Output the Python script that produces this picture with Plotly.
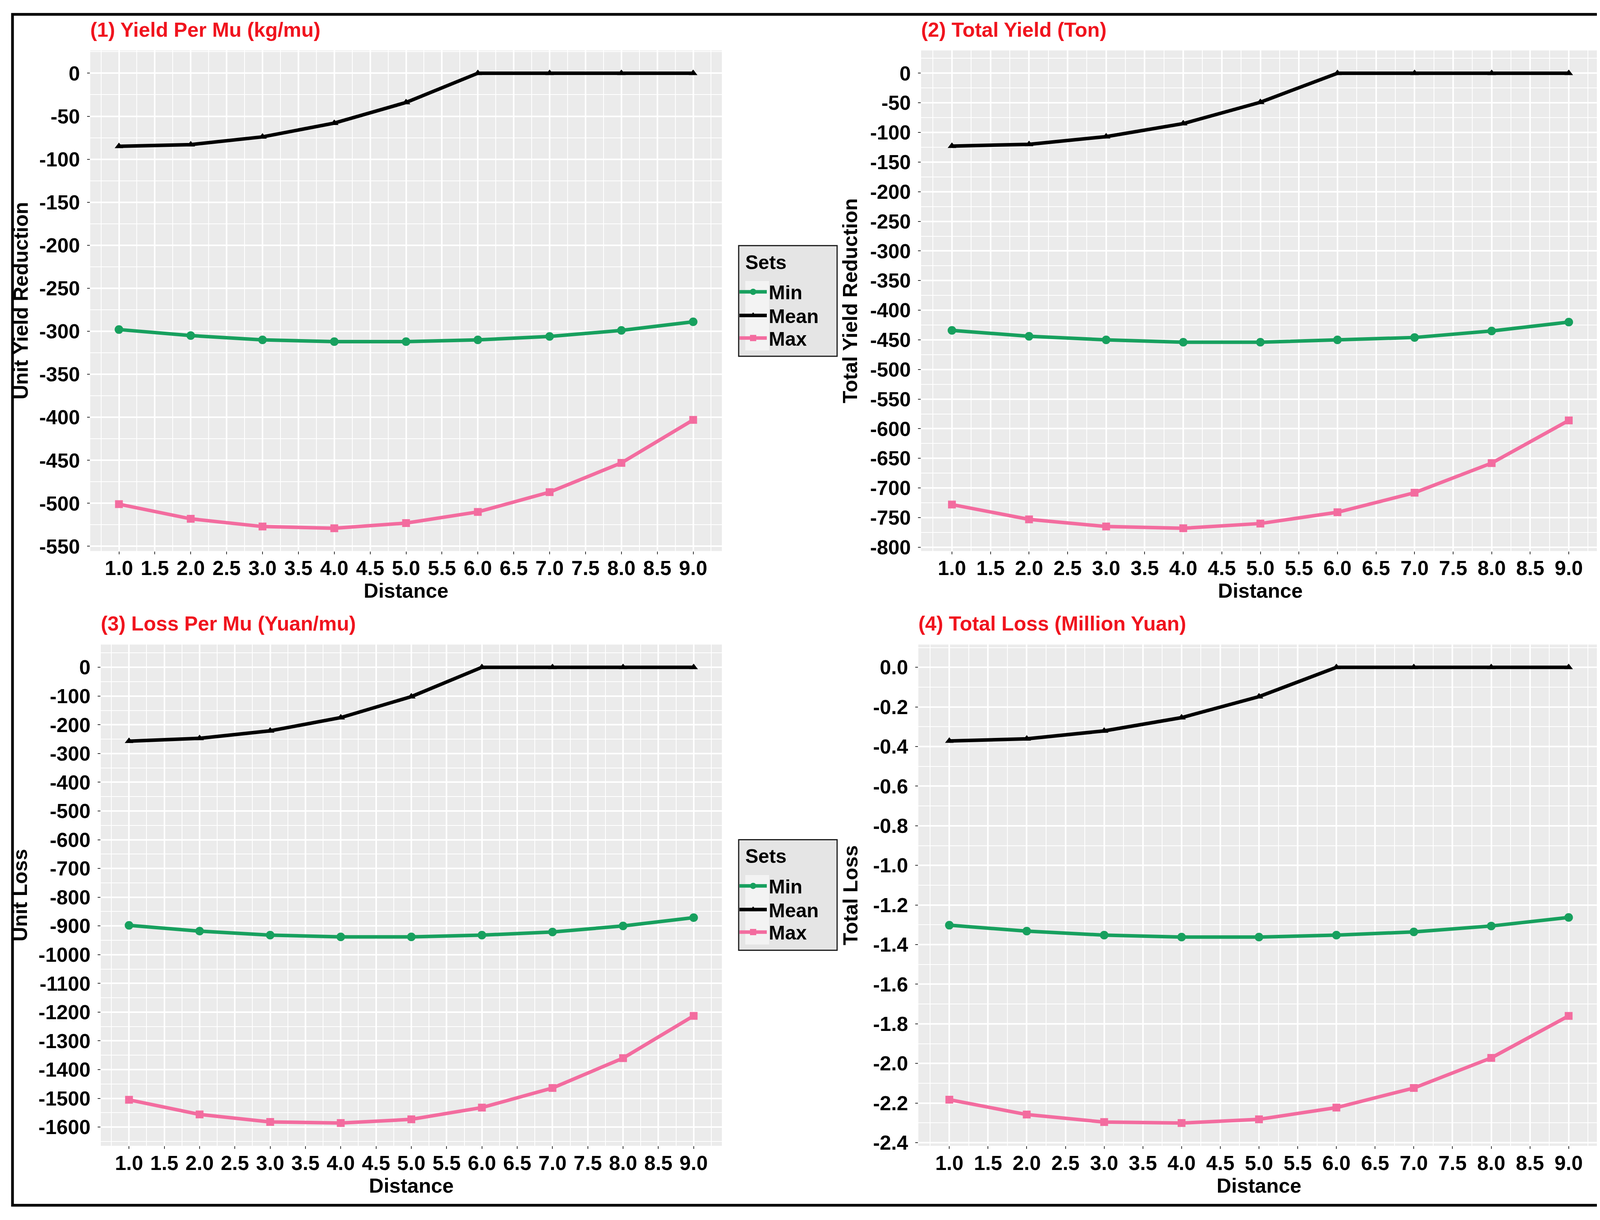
import plotly.graph_objects as go

W, H = 4139, 3123

# ---------------- data ----------------
distance = [1, 2, 3, 4, 5, 6, 7, 8, 9]
set_names = ["Min", "Mean", "Max"]

yield_mu_min = [-298, -305, -310, -312, -312, -310, -306, -299, -289]
yield_mu_mean = [-85, -83, -74, -58, -34, 0, 0, 0, 0]
yield_mu_max = [-501, -518, -527, -529, -523, -510, -487, -453, -403]

total_yield_min = [-434, -444, -450, -454, -454, -450, -446, -435, -420]
total_yield_mean = [-123, -120, -107, -85, -49, 0, 0, 0, 0]
total_yield_max = [-728, -753, -765, -768, -760, -741, -708, -658, -586]

loss_mu_min = [-898, -918, -932, -938, -938, -932, -921, -900, -871]
loss_mu_mean = [-257, -247, -221, -175, -102, 0, 0, 0, 0]
loss_mu_max = [-1505, -1556, -1582, -1586, -1573, -1532, -1464, -1360, -1213]

total_loss_min = [-1.302, -1.332, -1.352, -1.362, -1.362, -1.352, -1.336, -1.306, -1.263]
total_loss_mean = [-0.372, -0.361, -0.321, -0.254, -0.148, 0, 0, 0, 0]
total_loss_max = [-2.183, -2.258, -2.296, -2.301, -2.282, -2.223, -2.124, -1.972, -1.760]

x_ticks = [1.0, 1.5, 2.0, 2.5, 3.0, 3.5, 4.0, 4.5, 5.0, 5.5, 6.0, 6.5, 7.0, 7.5, 8.0, 8.5, 9.0]
x_ticklabels = ["1.0", "1.5", "2.0", "2.5", "3.0", "3.5", "4.0", "4.5", "5.0",
                "5.5", "6.0", "6.5", "7.0", "7.5", "8.0", "8.5", "9.0"]

p1_yticks = [-550, -500, -450, -400, -350, -300, -250, -200, -150, -100, -50, 0]
p2_yticks = [-800, -750, -700, -650, -600, -550, -500, -450, -400, -350, -300,
             -250, -200, -150, -100, -50, 0]
p3_yticks = [-1600, -1500, -1400, -1300, -1200, -1100, -1000, -900, -800, -700,
             -600, -500, -400, -300, -200, -100, 0]
p4_yticks = [-2.4, -2.2, -2.0, -1.8, -1.6, -1.4, -1.2, -1.0, -0.8, -0.6, -0.4, -0.2, 0.0]
p4_yticklabels = ["-2.4", "-2.2", "-2.0", "-1.8", "-1.6", "-1.4", "-1.2", "-1.0",
                  "-0.8", "-0.6", "-0.4", "-0.2", "0.0"]

panel_titles = ["(1) Yield Per Mu (kg/mu)", "(2) Total Yield (Ton)",
                "(3) Loss Per Mu (Yuan/mu)", "(4) Total Loss (Million Yuan)"]
y_titles = ["Unit Yield Reduction", "Total Yield Reduction", "Unit Loss", "Total Loss"]
x_title = "Distance"
legend_title = "Sets"

# ---------------- style ----------------
colors = {"Min": "#17A05E", "Mean": "#000000", "Max": "#F36C9F"}
symbols = {"Min": "circle", "Mean": "triangle-up", "Max": "square"}
msizes = {"Min": 22, "Mean": 19, "Max": 20}
FONT = "Liberation Sans, Arial, Helvetica, sans-serif"
PANEL_BG = "#EBEBEB"


def px_x(v):
    return v / W


def px_y(v):
    return 1 - v / H


# panel boxes in pixels: (left, right, top, bottom)
boxes = [
    (223, 1840, 122, 1412),
    (2350, 4087, 122, 1412),
    (250, 1840, 1653, 2945),
    (2343, 4087, 1653, 2945),
]
ytitle_standoff = [12, 16, 12, 22]

panels = [
    (yield_mu_min, yield_mu_mean, yield_mu_max, p1_yticks, [str(v) for v in p1_yticks]),
    (total_yield_min, total_yield_mean, total_yield_max, p2_yticks, [str(v) for v in p2_yticks]),
    (loss_mu_min, loss_mu_mean, loss_mu_max, p3_yticks, [str(v) for v in p3_yticks]),
    (total_loss_min, total_loss_mean, total_loss_max, p4_yticks, p4_yticklabels),
]


def minor_vals(ticks, lo, hi):
    step = ticks[1] - ticks[0]
    vals = [t + step / 2 for t in ticks] + [ticks[0] - step / 2]
    return [v for v in vals if lo <= v <= hi]


fig = go.Figure()
layout = dict(
    width=W, height=H,
    margin=dict(l=0, r=0, t=0, b=0),
    paper_bgcolor="white",
    plot_bgcolor=PANEL_BG,
    showlegend=True,
    annotations=[],
    shapes=[],
)

xr = (min(distance) - 0.05 * (max(distance) - min(distance)),
      max(distance) + 0.05 * (max(distance) - min(distance)))

legend_ids = {1: ["legend", "legend2", "legend3"], 3: ["legend4", "legend5", "legend6"]}
item_y = [747, 808, 866]
leg_dy = {1: 0, 3: 1531}

for i, (smin, smean, smax, yt, ytl) in enumerate(panels):
    n = i + 1
    xa = "x" if n == 1 else f"x{n}"
    ya = "y" if n == 1 else f"y{n}"
    allv = smin + smean + smax
    lo, hi = min(allv), max(allv)
    pad = 0.05 * (hi - lo)
    yr = (lo - pad, hi + pad)
    L, R, T, B = boxes[i]

    for j, (name, vals) in enumerate(zip(set_names, [smin, smean, smax])):
        show = n in (1, 3)
        tr = dict(
            x=distance, y=vals, name=name, mode="lines+markers",
            line=dict(color=colors[name], width=9),
            marker=dict(color=colors[name], symbol=symbols[name], size=msizes[name]),
            xaxis=xa, yaxis=ya, showlegend=show,
        )
        if show:
            tr["legend"] = legend_ids[n][j]
        fig.add_trace(go.Scatter(**tr))

    axis_font = dict(family=FONT, size=52, color="black", weight="bold")
    layout["xaxis" if n == 1 else f"xaxis{n}"] = dict(
        domain=[px_x(L), px_x(R)], anchor=ya,
        range=list(xr), tickmode="array", tickvals=x_ticks, ticktext=x_ticklabels,
        showgrid=True, gridcolor="white", gridwidth=4, zeroline=False,
        showline=False, ticks="outside", ticklen=7, tickwidth=2, tickcolor="#333333",
        tickfont=axis_font, ticklabelstandoff=-9,
        minor=dict(tickmode="array", tickvals=minor_vals(x_ticks, *xr),
                   showgrid=True, gridcolor="white", gridwidth=2, ticks=""),
        title=dict(text=x_title, font=axis_font, standoff=4),
    )
    layout["yaxis" if n == 1 else f"yaxis{n}"] = dict(
        domain=[px_y(B), px_y(T)], anchor=xa,
        range=list(yr), tickmode="array", tickvals=yt, ticktext=ytl,
        showgrid=True, gridcolor="white", gridwidth=4, zeroline=False,
        showline=False, ticks="outside", ticklen=7, tickwidth=2, tickcolor="#333333",
        tickfont=axis_font, ticklabelstandoff=8,
        minor=dict(tickmode="array", tickvals=minor_vals(yt, *yr),
                   showgrid=True, gridcolor="white", gridwidth=2, ticks=""),
        title=dict(text=y_titles[i], font=axis_font, standoff=ytitle_standoff[i]),
    )
    layout["annotations"].append(dict(
        text=panel_titles[i], xref="paper", yref="paper",
        x=px_x(L - 2), y=px_y(T - 54), xanchor="left", yanchor="middle",
        showarrow=False, font=dict(family=FONT, size=52, color="#F0141E", weight="bold"),
    ))

# legend boxes (top and bottom)
for n in (1, 3):
    dy = leg_dy[n]
    layout["shapes"].append(dict(
        type="rect", xref="paper", yref="paper", layer="below",
        x0=px_x(1883), x1=px_x(2135), y0=px_y(625 + dy), y1=px_y(910 + dy),
        fillcolor="#E5E5E5", line=dict(color="#1A1A1A", width=3),
    ))
    layout["shapes"].append(dict(
        type="rect", xref="paper", yref="paper", layer="below",
        x0=px_x(1900), x1=px_x(1961), y0=px_y(716 + dy), y1=px_y(895 + dy),
        fillcolor="#F3F3F3", line=dict(width=0),
    ))
    layout["annotations"].append(dict(
        text=legend_title, xref="paper", yref="paper",
        x=px_x(1898), y=px_y(668 + dy), xanchor="left", yanchor="middle",
        showarrow=False, font=dict(family=FONT, size=50, color="black", weight="bold"),
    ))
    for j, key in enumerate(legend_ids[n]):
        layout[key] = dict(
            x=px_x(1880), y=px_y(item_y[j] - 3 + dy), xanchor="left", yanchor="middle",
            bgcolor="rgba(0,0,0,0)", borderwidth=0,
            font=dict(family=FONT, size=50, color="black", weight="bold"),
            itemsizing="trace", itemwidth=70,
        )

# outer frame
layout["shapes"].append(dict(
    type="rect", xref="paper", yref="paper", layer="above",
    x0=px_x(24), x1=px_x(4111), y0=px_y(3098), y1=px_y(29),
    line=dict(color="black", width=7), fillcolor="rgba(0,0,0,0)",
))

fig.update_layout(**layout)
fig.write_html("out.html")
